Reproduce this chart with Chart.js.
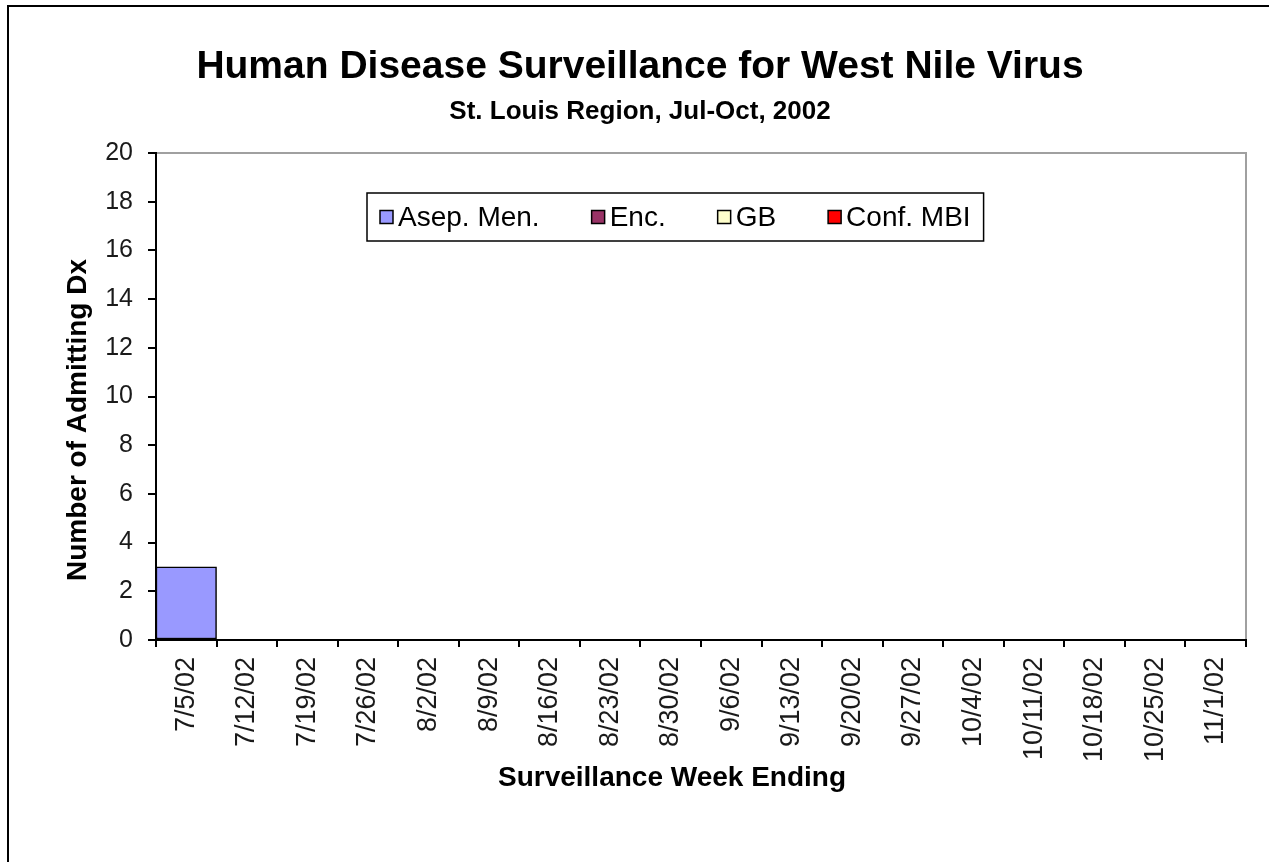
<!DOCTYPE html>
<html>
<head>
<meta charset="utf-8">
<script src="https://cdn.jsdelivr.net/npm/chart.js@4.4.1/dist/chart.umd.min.js"></script>
<style>
html,body{margin:0;padding:0;background:#fff;}
#wrap{width:1269px;height:862px;position:relative;}
canvas{display:block;}
</style>
</head>
<body>
<div id="wrap"><canvas id="c" width="1269" height="862"></canvas></div>
<script>
// ---- data ----
const categories = ['7/5/02','7/12/02','7/19/02','7/26/02','8/2/02','8/9/02','8/16/02','8/23/02','8/30/02','9/6/02','9/13/02','9/20/02','9/27/02','10/4/02','10/11/02','10/18/02','10/25/02','11/1/02'];
const asepMen = [3,0,0,0,0,0,0,0,0,0,0,0,0,0,0,0,0,0];
const enc     = [0,0,0,0,0,0,0,0,0,0,0,0,0,0,0,0,0,0];
const gb      = [0,0,0,0,0,0,0,0,0,0,0,0,0,0,0,0,0,0];
const confMBI = [0,0,0,0,0,0,0,0,0,0,0,0,0,0,0,0,0,0];
const seriesNames = ['Asep. Men.','Enc.','GB','Conf. MBI'];
const seriesColors = ['#9999FF','#993366','#FFFFCC','#FF0000'];
const yMin = 0, yMax = 20, yStep = 2;
const titleText = 'Human Disease Surveillance for West Nile Virus';
const subtitleText = 'St. Louis Region, Jul-Oct, 2002';
const yTitleText = 'Number of Admitting Dx';
const xTitleText = 'Surveillance Week Ending';

const FONT = "'Liberation Sans', Arial, Helvetica, sans-serif";

const decorPlugin = {
  id: 'decor',
  beforeDraw(chart) {
    const {ctx, chartArea: a} = chart;
    ctx.save();
    ctx.fillStyle = '#fff';
    ctx.fillRect(0, 0, chart.width, chart.height);
    // outer chart frame
    ctx.strokeStyle = '#000';
    ctx.lineWidth = 2;
    ctx.strokeRect(8, 6, chart.width + 30, chart.height + 30);
    // plot area border (top / right)
    ctx.strokeStyle = '#a0a0a0';
    ctx.lineWidth = 2;
    ctx.beginPath();
    ctx.moveTo(a.left, a.top);
    ctx.lineTo(a.right, a.top);
    ctx.lineTo(a.right, a.bottom);
    ctx.stroke();
    ctx.restore();
  },
  afterDraw(chart) {
    const ctx = chart.ctx;
    ctx.save();
    ctx.fillStyle = '#000';
    // axis titles
    ctx.font = 'bold 28px ' + FONT;
    ctx.textAlign = 'center';
    ctx.textBaseline = 'middle';
    ctx.fillText(xTitleText, 672, 778);
    ctx.save();
    ctx.translate(78, 420);
    ctx.rotate(-Math.PI / 2);
    ctx.fillText(yTitleText, 0, 0);
    ctx.restore();

    // legend box
    const ds = chart.data.datasets;
    ctx.font = '28px ' + FONT;
    const sq = 13, gapSqText = 5, itemGap = 52, padX = 13;
    const widths = ds.map(d => ctx.measureText(d.label).width);
    let total = padX * 2 + itemGap * (ds.length - 1);
    widths.forEach(w => total += sq + gapSqText + w);
    const boxTop = 193, boxH = 48, cx = 675.5;
    const boxLeft = Math.round(cx - total / 2);
    ctx.strokeStyle = '#000';
    ctx.lineWidth = 1.5;
    ctx.fillStyle = '#fff';
    ctx.fillRect(boxLeft, boxTop, total, boxH);
    ctx.strokeRect(boxLeft, boxTop, total, boxH);
    let x = boxLeft + padX;
    const midY = boxTop + boxH / 2;
    ctx.textAlign = 'left';
    ctx.textBaseline = 'middle';
    ds.forEach((d, i) => {
      ctx.fillStyle = d.backgroundColor;
      ctx.fillRect(x, midY - sq / 2, sq, sq);
      ctx.lineWidth = 1.5;
      ctx.strokeStyle = '#000';
      ctx.strokeRect(x, midY - sq / 2, sq, sq);
      ctx.fillStyle = '#000';
      ctx.fillText(d.label, x + sq + gapSqText, midY + 1);
      x += sq + gapSqText + widths[i] + itemGap;
    });
    ctx.restore();
  }
};

const seriesData = [asepMen, enc, gb, confMBI];

new Chart(document.getElementById('c'), {
  type: 'bar',
  data: {
    labels: categories,
    datasets: seriesData.map((vals, i) => ({
      label: seriesNames[i],
      data: vals,
      backgroundColor: seriesColors[i],
      borderColor: '#000',
      borderWidth: 1.5,
      borderSkipped: false,
      barPercentage: 1.0,
      categoryPercentage: 1.0
    }))
  },
  options: {
    responsive: false,
    animation: false,
    devicePixelRatio: 1,
    layout: { padding: { left: 34, right: 23, top: 0, bottom: 0 } },
    plugins: {
      legend: { display: false },
      tooltip: { enabled: false },
      title: {
        display: true,
        text: titleText,
        color: '#000',
        font: { family: FONT, size: 39, weight: 'bold', lineHeight: 1.2 },
        padding: { top: 44, bottom: 0 }
      },
      subtitle: {
        display: true,
        text: subtitleText,
        color: '#000',
        font: { family: FONT, size: 26, weight: 'bold', lineHeight: 1.2 },
        padding: { top: 5, bottom: 26 }
      }
    },
    scales: {
      x: {
        stacked: true,
        afterFit(scale) { scale.height = 222; },
        grid: {
          display: true,
          offset: true,
          drawOnChartArea: false,
          drawTicks: true,
          tickLength: 7,
          color: '#000',
          lineWidth: 2
        },
        border: { display: true, color: '#000', width: 2 },
        ticks: {
          autoSkip: false,
          minRotation: 90,
          maxRotation: 90,
          padding: 10,
          color: '#1a1a1a',
          font: { family: FONT, size: 27 }
        }
      },
      y: {
        stacked: true,
        min: yMin,
        max: yMax,
        afterFit(scale) { scale.width = 122; },
        grid: {
          display: true,
          drawOnChartArea: false,
          drawTicks: true,
          tickLength: 8,
          color: '#000',
          lineWidth: 2
        },
        border: { display: true, color: '#000', width: 2 },
        ticks: {
          stepSize: yStep,
          padding: 15,
          color: '#1a1a1a',
          font: { family: FONT, size: 25 }
        }
      }
    }
  },
  plugins: [decorPlugin]
});
</script>
</body>
</html>
